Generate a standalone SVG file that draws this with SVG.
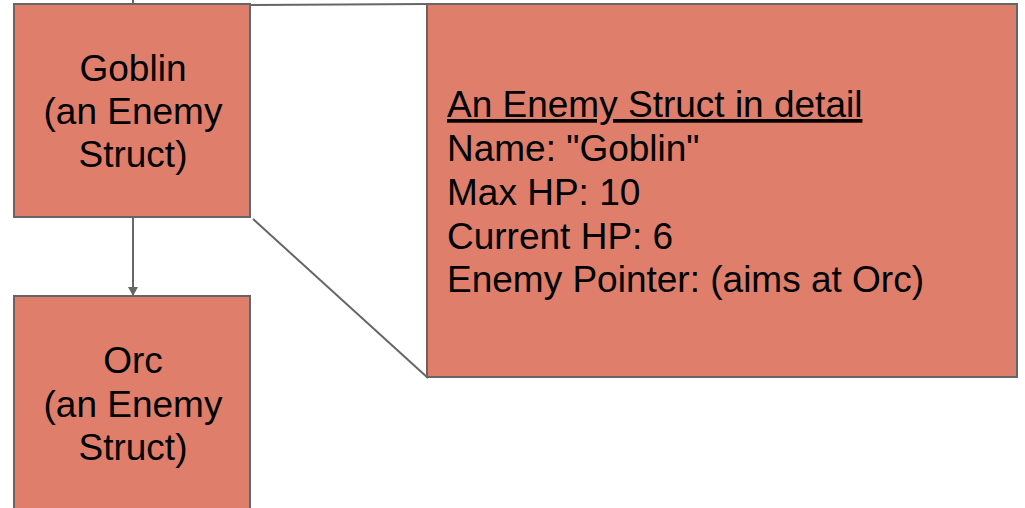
<svg xmlns="http://www.w3.org/2000/svg" width="1025" height="508" viewBox="0 0 1025 508">
  <defs>
    <style>
      .box { fill: #de7e6b; stroke: #666666; stroke-width: 2; }
      .lbl { font-family: "Liberation Sans", Arial, sans-serif; font-size: 37px; fill: #000000; }
      .mid { text-anchor: middle; }
      .wire { stroke: #666666; stroke-width: 2; fill: none; }
    </style>
    <marker id="arrow" markerWidth="10" markerHeight="10" refX="8" refY="5" orient="auto" markerUnits="userSpaceOnUse">
      <path d="M0,0 L9,5 L0,10 Z" fill="#666666"/>
    </marker>
  </defs>
  <rect width="1025" height="508" fill="#ffffff"/>

  <!-- connectors -->
  <g id="connectors">
    <line class="wire" x1="133" y1="0" x2="133" y2="4"/>
    <line class="wire" x1="133" y1="218" x2="133" y2="295" marker-end="url(#arrow)"/>
    <line class="wire" x1="250" y1="5" x2="428" y2="4"/>
    <line class="wire" x1="253" y1="219" x2="428" y2="378"/>
  </g>

  <!-- Goblin node -->
  <g id="goblin">
    <rect class="box" x="14" y="4" width="236" height="213"/>
    <text class="lbl mid" x="133" y="81">Goblin</text>
    <text class="lbl mid" x="133" y="124">(an Enemy</text>
    <text class="lbl mid" x="133" y="167">Struct)</text>
  </g>

  <!-- Orc node -->
  <g id="orc">
    <rect class="box" x="14" y="296" width="236" height="230"/>
    <text class="lbl mid" x="133" y="373">Orc</text>
    <text class="lbl mid" x="133" y="417">(an Enemy</text>
    <text class="lbl mid" x="133" y="460">Struct)</text>
  </g>

  <!-- Detail node -->
  <g id="detail">
    <rect class="box" x="427" y="4" width="590" height="373"/>
    <text class="lbl" x="447" y="117" text-decoration="underline">An Enemy Struct in detail</text>
    <text class="lbl" x="447" y="161">Name: "Goblin"</text>
    <text class="lbl" x="447" y="205">Max HP: 10</text>
    <text class="lbl" x="447" y="249">Current HP: 6</text>
    <text class="lbl" x="447" y="292">Enemy Pointer: (aims at Orc)</text>
  </g>
</svg>
